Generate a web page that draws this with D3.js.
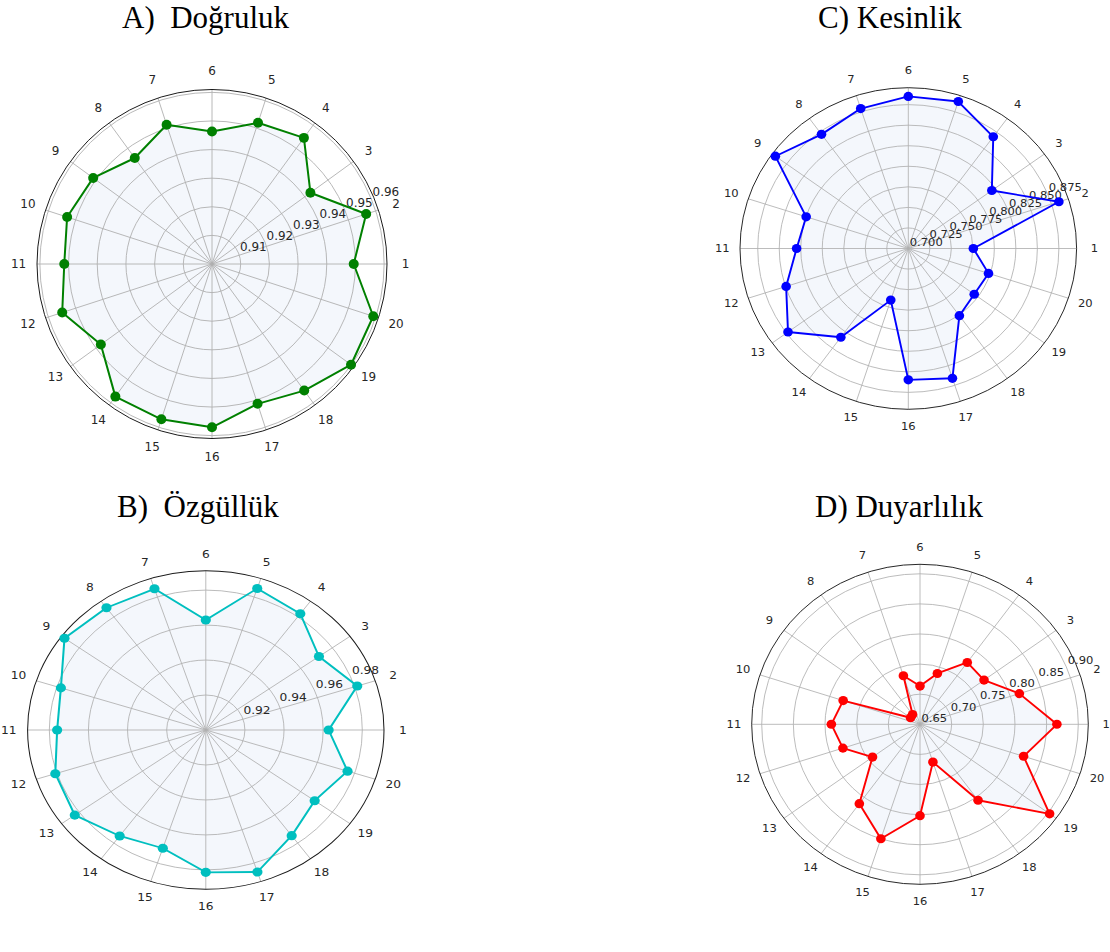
<!DOCTYPE html>
<html>
<head>
<meta charset="utf-8">
<script src="https://cdn.jsdelivr.net/npm/d3@7/dist/d3.min.js"></script>
<style>
  html, body { margin: 0; padding: 0; background: #ffffff; }
  svg { display: block; }
</style>
</head>
<body>
<svg id="chart" width="1110" height="952"></svg>
<script>
// ---------------- DATA ----------------
const categories = ["1","2","3","4","5","6","7","8","9","10","11","12","13","14","15","16","17","18","19","20"];

const accuracyValues = [0.9494, 0.9565, 0.9424, 0.9545, 0.9519, 0.9463, 0.9512, 0.9458, 0.9512, 0.9531,
                        0.9515, 0.9549, 0.9479, 0.9573, 0.9571, 0.9571, 0.9514, 0.9547, 0.9599, 0.9591];
const specificityValues = [0.9628, 0.9814, 0.9715, 0.9822, 0.9851, 0.9629, 0.9849, 0.9864, 0.9893, 0.9779,
                           0.9760, 0.9809, 0.9828, 0.9749, 0.9711, 0.9814, 0.9854, 0.9747, 0.9688, 0.9762];
const precisionValues = [0.7756, 0.8840, 0.8200, 0.8680, 0.8880, 0.8850, 0.8790, 0.8716, 0.8910, 0.8248,
                         0.8298, 0.8493, 0.8728, 0.8334, 0.7660, 0.8598, 0.8660, 0.8010, 0.7947, 0.7980];
const sensitivityValues = [0.8662, 0.8150, 0.7750, 0.7770, 0.7388, 0.7135, 0.7348, 0.6700, 0.6685, 0.7776,
                           0.7900, 0.7780, 0.7427, 0.8130, 0.8500, 0.8018, 0.7160, 0.8060, 0.9030, 0.8220];

const accuracyTicks = [0.91, 0.92, 0.93, 0.94, 0.95, 0.96];
const specificityTicks = [0.92, 0.94, 0.96, 0.98];
const precisionTicks = [0.700, 0.725, 0.750, 0.775, 0.800, 0.825, 0.850, 0.875];
const sensitivityTicks = [0.65, 0.70, 0.75, 0.80, 0.85, 0.90];

const titles = ["A)  Doğruluk", "B)  Özgüllük", "C) Kesinlik", "D) Duyarlılık"];

// ---------------- DRAW ----------------
const svg = d3.select("#chart");
svg.append("rect").attr("width", 1110).attr("height", 952).attr("fill", "#ffffff");

const R = 175;
const n = categories.length;
const angleScale = d3.scaleLinear().domain([0, n]).range([0, 2 * Math.PI]); // ccw from east

function drawPanel(cfg) {
  const g = svg.append("g")
    .attr("transform", `translate(${cfg.cx},${cfg.cy}) scale(${cfg.rx / R},${cfg.ry / R})`);
  const r = d3.scaleLinear().domain(cfg.domain).range([0, R]);

  const radial = d3.lineRadial()
    .angle((d, i) => Math.PI / 2 - angleScale(i))
    .radius(d => r(d))
    .curve(d3.curveLinearClosed);

  g.append("path")
    .attr("d", radial(cfg.values))
    .attr("fill", "#f4f7fc")
    .attr("stroke", "none");

  g.selectAll(".ring").data(cfg.ticks.filter(t => r(t) > 0.5)).enter()
    .append("circle")
    .attr("r", d => r(d))
    .attr("fill", "none")
    .attr("stroke", "#b0b0b0")
    .attr("stroke-width", 0.9);

  g.selectAll(".spoke").data(categories).enter()
    .append("line")
    .attr("x1", 0).attr("y1", 0)
    .attr("x2", (d, i) => R * Math.cos(angleScale(i)))
    .attr("y2", (d, i) => -R * Math.sin(angleScale(i)))
    .attr("stroke", "#b0b0b0")
    .attr("stroke-width", 0.9);

  g.append("circle")
    .attr("r", R)
    .attr("fill", "none")
    .attr("stroke", "#1a1a1a")
    .attr("stroke-width", 1);

  const la = 22.5 * Math.PI / 180;
  g.selectAll(".rlab").data(cfg.ticks).enter()
    .append("text")
    .attr("x", d => r(d) * Math.cos(la) + 1.5)
    .attr("y", d => -r(d) * Math.sin(la) - 2.5)
    .attr("font-family", "DejaVu Sans, sans-serif")
    .attr("font-size", 12)
    .attr("fill", "#262626")
    .attr("text-anchor", "start")
    .text(d => d3.format(cfg.fmt)(d));

  g.selectAll(".alab").data(categories).enter()
    .append("text")
    .attr("x", (d, i) => (R + 18.5) * Math.cos(angleScale(i)))
    .attr("y", (d, i) => -(R + 18.5) * Math.sin(angleScale(i)))
    .attr("font-family", "DejaVu Sans, sans-serif")
    .attr("font-size", 12)
    .attr("fill", "#262626")
    .attr("text-anchor", "middle")
    .attr("dominant-baseline", "central")
    .text(d => d);

  g.append("path")
    .attr("d", radial(cfg.values))
    .attr("fill", "none")
    .attr("stroke", cfg.color)
    .attr("stroke-width", 2)
    .attr("stroke-linejoin", "round");

  g.selectAll(".pt").data(cfg.values).enter()
    .append("circle")
    .attr("cx", (d, i) => r(d) * Math.cos(angleScale(i)))
    .attr("cy", (d, i) => -r(d) * Math.sin(angleScale(i)))
    .attr("r", 5)
    .attr("fill", cfg.color);

  svg.append("text")
    .attr("x", cfg.tx).attr("y", cfg.ty)
    .attr("font-family", "Times New Roman, Liberation Serif, serif")
    .attr("font-size", 31)
    .attr("fill", "#000")
    .style("white-space", "pre")
    .attr("xml:space", "preserve")
    .text(cfg.title);
}

drawPanel({ cx: 212, cy: 264, rx: 175, ry: 174.5, domain: [0.90, 0.961], ticks: accuracyTicks, fmt: ".2f",
            values: accuracyValues, color: "#008000", title: titles[0], tx: 122, ty: 28 });
drawPanel({ cx: 205.8, cy: 730, rx: 178.2, ry: 159.3, domain: [0.90, 0.9911], ticks: specificityTicks, fmt: ".2f",
            values: specificityValues, color: "#00bfbf", title: titles[1], tx: 117, ty: 517 });
drawPanel({ cx: 908.3, cy: 248.5, rx: 168.3, ry: 160.8, domain: [0.70, 0.8956], ticks: precisionTicks, fmt: ".3f",
            values: precisionValues, color: "#0000ff", title: titles[2], tx: 818, ty: 28 });
drawPanel({ cx: 920, cy: 724.3, rx: 168.3, ry: 160, domain: [0.65, 0.9158], ticks: sensitivityTicks, fmt: ".2f",
            values: sensitivityValues, color: "#ff0000", title: titles[3], tx: 815, ty: 517 });
</script>
</body>
</html>
